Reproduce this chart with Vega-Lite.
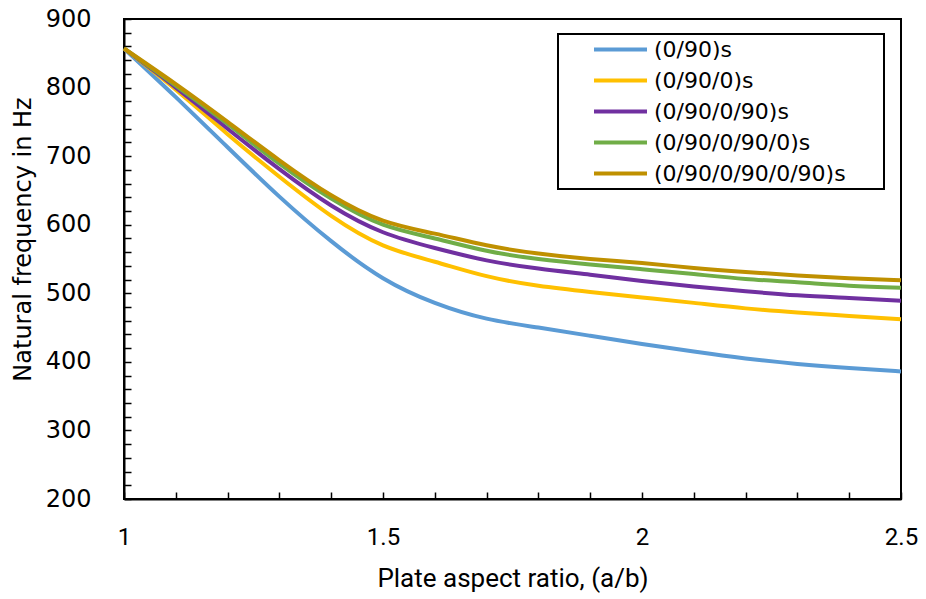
{
  "$schema": "https://vega.github.io/schema/vega-lite/v6.json",
  "width": 777,
  "height": 480,
  "autosize": {"type": "none"},
  "padding": {"left": 124, "top": 19, "right": 25, "bottom": 100},
  "background": "white",
  "config": {
    "view": {"stroke": "black", "strokeWidth": 2},
    "axis": {"grid": false, "domainColor": "black", "domainWidth": 2, "tickColor": "black", "tickWidth": 1.5, "labelColor": "black", "titleColor": "black", "titleFontWeight": "normal"},
    "legend": {"strokeColor": "black", "strokeWidth": 2, "fillColor": "white"}
  },
  "data": {
    "values": [
      {"ratio": 1.0, "layup": "(0/90)s", "freq": 857},
      {"ratio": 1.1, "layup": "(0/90)s", "freq": 786},
      {"ratio": 1.2, "layup": "(0/90)s", "freq": 713},
      {"ratio": 1.3, "layup": "(0/90)s", "freq": 641},
      {"ratio": 1.4, "layup": "(0/90)s", "freq": 576},
      {"ratio": 1.5, "layup": "(0/90)s", "freq": 522},
      {"ratio": 1.6, "layup": "(0/90)s", "freq": 486},
      {"ratio": 1.7, "layup": "(0/90)s", "freq": 463},
      {"ratio": 1.8, "layup": "(0/90)s", "freq": 450},
      {"ratio": 1.9, "layup": "(0/90)s", "freq": 438},
      {"ratio": 2.0, "layup": "(0/90)s", "freq": 426},
      {"ratio": 2.1, "layup": "(0/90)s", "freq": 415},
      {"ratio": 2.2, "layup": "(0/90)s", "freq": 405},
      {"ratio": 2.3, "layup": "(0/90)s", "freq": 397},
      {"ratio": 2.4, "layup": "(0/90)s", "freq": 391},
      {"ratio": 2.5, "layup": "(0/90)s", "freq": 386},

      {"ratio": 1.0, "layup": "(0/90/0)s", "freq": 857},
      {"ratio": 1.1, "layup": "(0/90/0)s", "freq": 797},
      {"ratio": 1.2, "layup": "(0/90/0)s", "freq": 732},
      {"ratio": 1.3, "layup": "(0/90/0)s", "freq": 670},
      {"ratio": 1.4, "layup": "(0/90/0)s", "freq": 613},
      {"ratio": 1.5, "layup": "(0/90/0)s", "freq": 570},
      {"ratio": 1.6, "layup": "(0/90/0)s", "freq": 546},
      {"ratio": 1.7, "layup": "(0/90/0)s", "freq": 525},
      {"ratio": 1.8, "layup": "(0/90/0)s", "freq": 511},
      {"ratio": 1.9, "layup": "(0/90/0)s", "freq": 502},
      {"ratio": 2.0, "layup": "(0/90/0)s", "freq": 494},
      {"ratio": 2.1, "layup": "(0/90/0)s", "freq": 486},
      {"ratio": 2.2, "layup": "(0/90/0)s", "freq": 478},
      {"ratio": 2.3, "layup": "(0/90/0)s", "freq": 472},
      {"ratio": 2.4, "layup": "(0/90/0)s", "freq": 467},
      {"ratio": 2.5, "layup": "(0/90/0)s", "freq": 462},

      {"ratio": 1.0, "layup": "(0/90/0/90)s", "freq": 857},
      {"ratio": 1.1, "layup": "(0/90/0/90)s", "freq": 800},
      {"ratio": 1.2, "layup": "(0/90/0/90)s", "freq": 740},
      {"ratio": 1.3, "layup": "(0/90/0/90)s", "freq": 681},
      {"ratio": 1.4, "layup": "(0/90/0/90)s", "freq": 628},
      {"ratio": 1.5, "layup": "(0/90/0/90)s", "freq": 589},
      {"ratio": 1.6, "layup": "(0/90/0/90)s", "freq": 566},
      {"ratio": 1.7, "layup": "(0/90/0/90)s", "freq": 548},
      {"ratio": 1.8, "layup": "(0/90/0/90)s", "freq": 536},
      {"ratio": 1.9, "layup": "(0/90/0/90)s", "freq": 527},
      {"ratio": 2.0, "layup": "(0/90/0/90)s", "freq": 518},
      {"ratio": 2.1, "layup": "(0/90/0/90)s", "freq": 510},
      {"ratio": 2.2, "layup": "(0/90/0/90)s", "freq": 503},
      {"ratio": 2.3, "layup": "(0/90/0/90)s", "freq": 497},
      {"ratio": 2.4, "layup": "(0/90/0/90)s", "freq": 493},
      {"ratio": 2.5, "layup": "(0/90/0/90)s", "freq": 489},

      {"ratio": 1.0, "layup": "(0/90/0/90/0)s", "freq": 857},
      {"ratio": 1.1, "layup": "(0/90/0/90/0)s", "freq": 803},
      {"ratio": 1.2, "layup": "(0/90/0/90/0)s", "freq": 747},
      {"ratio": 1.3, "layup": "(0/90/0/90/0)s", "freq": 689},
      {"ratio": 1.4, "layup": "(0/90/0/90/0)s", "freq": 638},
      {"ratio": 1.5, "layup": "(0/90/0/90/0)s", "freq": 600},
      {"ratio": 1.6, "layup": "(0/90/0/90/0)s", "freq": 580},
      {"ratio": 1.7, "layup": "(0/90/0/90/0)s", "freq": 562},
      {"ratio": 1.8, "layup": "(0/90/0/90/0)s", "freq": 550},
      {"ratio": 1.9, "layup": "(0/90/0/90/0)s", "freq": 542},
      {"ratio": 2.0, "layup": "(0/90/0/90/0)s", "freq": 535},
      {"ratio": 2.1, "layup": "(0/90/0/90/0)s", "freq": 528},
      {"ratio": 2.2, "layup": "(0/90/0/90/0)s", "freq": 521},
      {"ratio": 2.3, "layup": "(0/90/0/90/0)s", "freq": 516},
      {"ratio": 2.4, "layup": "(0/90/0/90/0)s", "freq": 511},
      {"ratio": 2.5, "layup": "(0/90/0/90/0)s", "freq": 508},

      {"ratio": 1.0, "layup": "(0/90/0/90/0/90)s", "freq": 857},
      {"ratio": 1.1, "layup": "(0/90/0/90/0/90)s", "freq": 805},
      {"ratio": 1.2, "layup": "(0/90/0/90/0/90)s", "freq": 750},
      {"ratio": 1.3, "layup": "(0/90/0/90/0/90)s", "freq": 694},
      {"ratio": 1.4, "layup": "(0/90/0/90/0/90)s", "freq": 643},
      {"ratio": 1.5, "layup": "(0/90/0/90/0/90)s", "freq": 606},
      {"ratio": 1.6, "layup": "(0/90/0/90/0/90)s", "freq": 587},
      {"ratio": 1.7, "layup": "(0/90/0/90/0/90)s", "freq": 570},
      {"ratio": 1.8, "layup": "(0/90/0/90/0/90)s", "freq": 558},
      {"ratio": 1.9, "layup": "(0/90/0/90/0/90)s", "freq": 550},
      {"ratio": 2.0, "layup": "(0/90/0/90/0/90)s", "freq": 544},
      {"ratio": 2.1, "layup": "(0/90/0/90/0/90)s", "freq": 537},
      {"ratio": 2.2, "layup": "(0/90/0/90/0/90)s", "freq": 531},
      {"ratio": 2.3, "layup": "(0/90/0/90/0/90)s", "freq": 526},
      {"ratio": 2.4, "layup": "(0/90/0/90/0/90)s", "freq": 522},
      {"ratio": 2.5, "layup": "(0/90/0/90/0/90)s", "freq": 519}
    ]
  },
  "mark": {"type": "line", "interpolate": "natural", "strokeWidth": 4, "strokeCap": "butt"},
  "encoding": {
    "x": {
      "field": "ratio",
      "type": "quantitative",
      "scale": {"domain": [1, 2.5], "nice": false, "zero": false},
      "axis": {
        "title": "Plate aspect ratio, (a/b)",
        "values": [1, 1.1, 1.2, 1.3, 1.4, 1.5, 1.6, 1.7, 1.8, 1.9, 2, 2.1, 2.2, 2.3, 2.4, 2.5],
        "labelExpr": "abs(datum.value * 2 - round(datum.value * 2)) < 0.001 ? format(datum.value, '~g') : ''",
        "tickSize": -7,
        "encode": {"ticks": {"update": {"y2": {"signal": "abs(datum.value * 2 - round(datum.value * 2)) < 0.001 ? -10 : -7"}}}},
        "labelFont": "Roboto",
        "labelFontSize": 24,
        "labelPadding": 33,
        "labelFlush": false,
        "labelOverlap": false,
        "titleFont": "Roboto",
        "titleFontSize": 26,
        "titlePadding": 16
      }
    },
    "y": {
      "field": "freq",
      "type": "quantitative",
      "scale": {"domain": [200, 900], "nice": false, "zero": false},
      "axis": {
        "title": "Natural frequency in Hz",
        "values": [200, 220, 240, 260, 280, 300, 320, 340, 360, 380, 400, 420, 440, 460, 480, 500, 520, 540, 560, 580, 600, 620, 640, 660, 680, 700, 720, 740, 760, 780, 800, 820, 840, 860, 880, 900],
        "labelExpr": "datum.value % 100 === 0 ? datum.label : ''",
        "tickSize": -7,
        "encode": {"ticks": {"update": {"x2": {"signal": "datum.value % 100 === 0 ? 10 : 7"}}}},
        "labelFont": "DejaVu Sans",
        "labelFontSize": 24,
        "labelPadding": 40,
        "labelOverlap": false,
        "labelFlush": false,
        "titleFont": "DejaVu Sans",
        "titleFontSize": 24,
        "titlePadding": 10,
        "titleY": 220
      }
    },
    "color": {
      "field": "layup",
      "type": "nominal",
      "scale": {
        "domain": ["(0/90)s", "(0/90/0)s", "(0/90/0/90)s", "(0/90/0/90/0)s", "(0/90/0/90/0/90)s"],
        "range": ["#5B9BD5", "#FFC000", "#7030A0", "#70AD47", "#BF9000"]
      },
      "legend": {
        "title": "\u00a0",
        "titleOrient": "right",
        "titlePadding": 38,
        "titleFontSize": 8,
        "orient": "none",
        "legendX": 434,
        "legendY": 15,
        "direction": "vertical",
        "symbolType": "stroke",
        "symbolSize": 2809,
        "symbolStrokeWidth": 4,
        "symbolOffset": 34,
        "labelFont": "DejaVu Sans",
        "labelFontSize": 22,
        "labelColor": "black",
        "labelOffset": 5,
        "labelLimit": 400,
        "clipHeight": 31,
        "rowPadding": 0,
        "padding": 0
      }
    }
  }
}
